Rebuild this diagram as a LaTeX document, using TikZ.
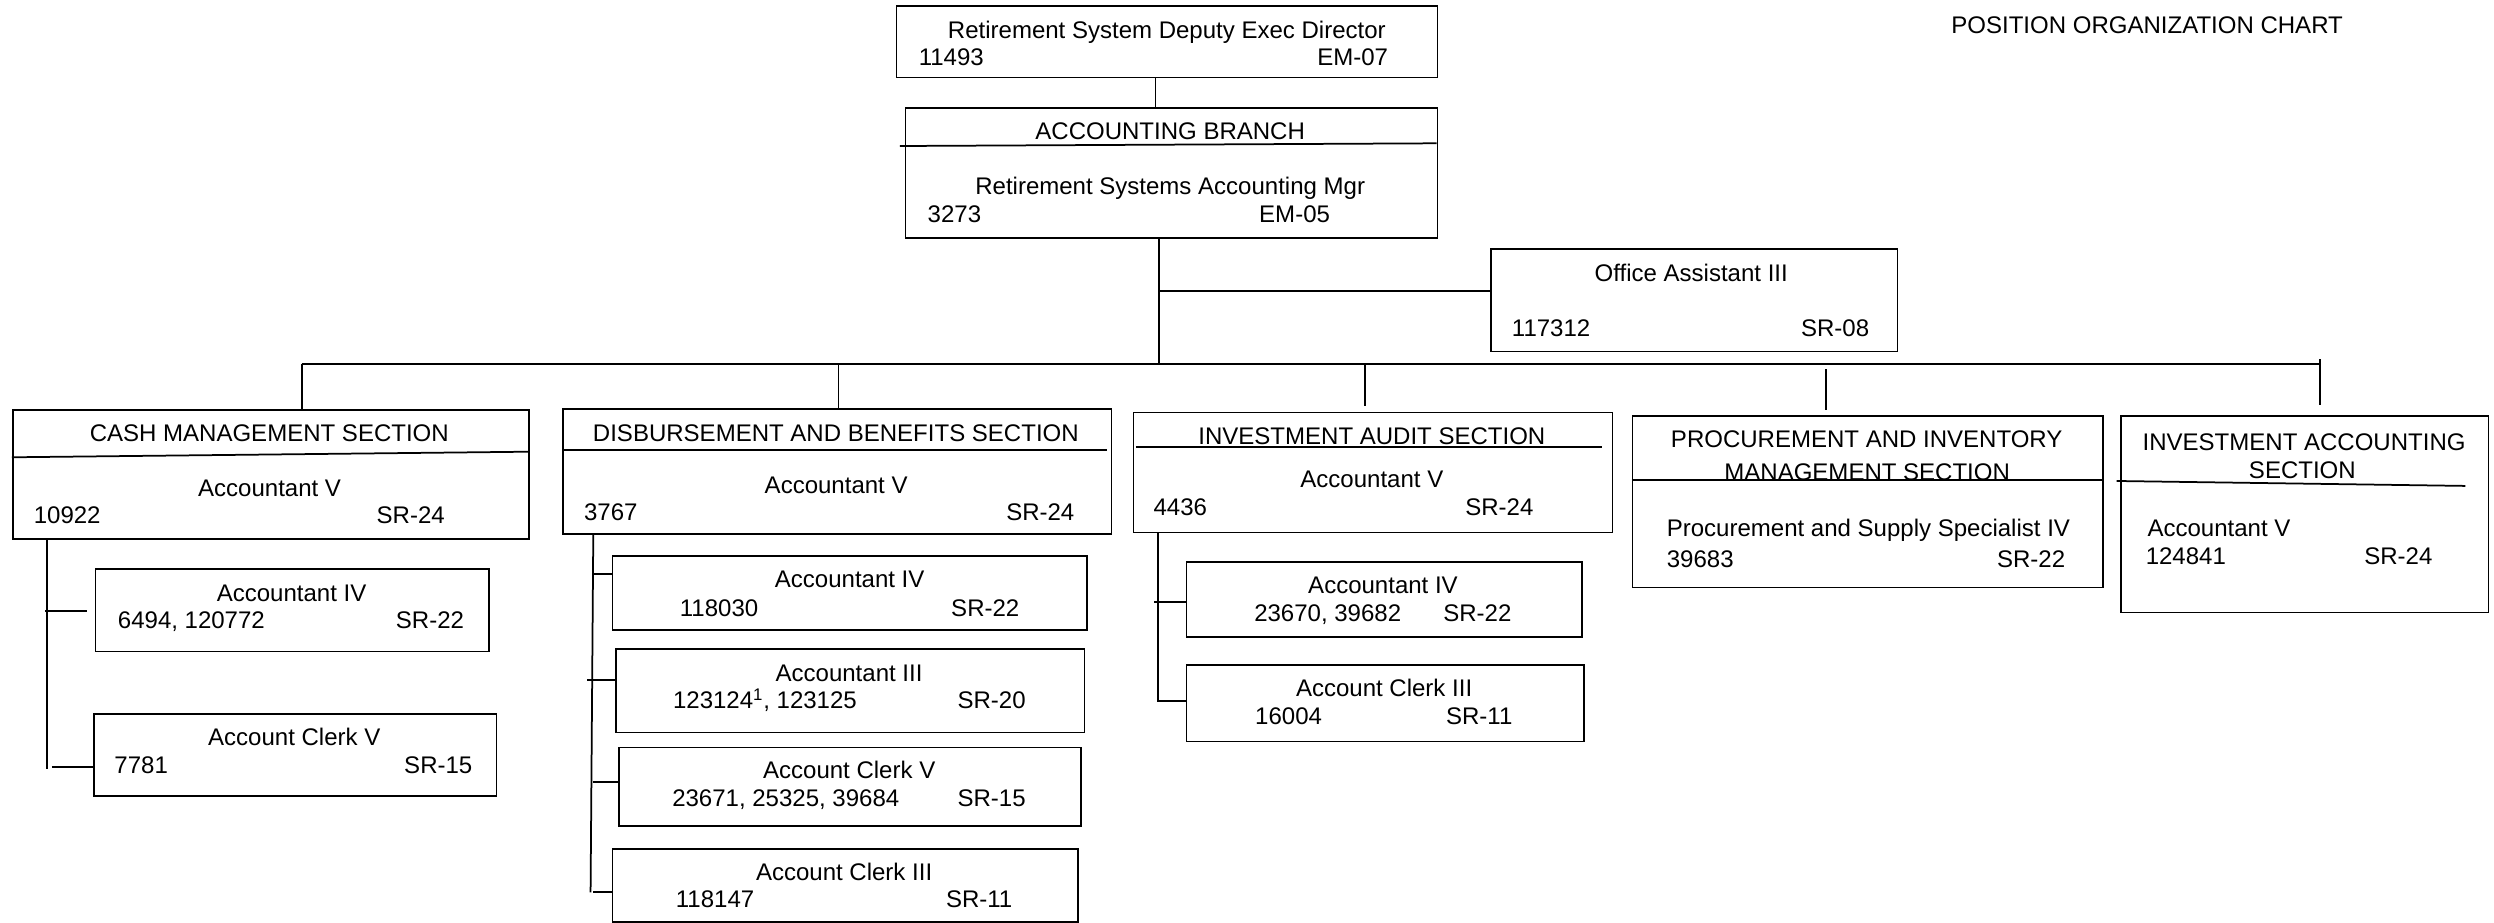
\documentclass[tikz,border=0pt]{standalone}
\usepackage{fontspec}
\setmainfont{Liberation Sans}
\newcommand{\chartfont}{\fontsize{15.1}{18}\selectfont}
\begin{document}
\begin{tikzpicture}[x=1pt,y=-1pt,line width=1.1pt,
  box/.style={draw,line width=1.1pt,inner sep=0pt,anchor=north west},
  tc/.style={inner sep=0pt,anchor=base,font=\chartfont},
  tl/.style={inner sep=0pt,anchor=base west,font=\chartfont},
  tr/.style={inner sep=0pt,anchor=base east,font=\chartfont},
  conn/.style={line width=1.1pt}]
\useasboundingbox[fill=white] (0,0) rectangle (1568,579.7);

% ---------- boxes ----------
\node[box,minimum width=340.1,minimum height=45.1] (top) at (563.1,3.1) {};
\node[box,minimum width=334.5,minimum height=81.7] (acc) at (568.7,67.5) {};
\node[box,minimum width=255.4,minimum height=64.4] (oa) at (937,156.1) {};
\node[box,minimum width=324.5,minimum height=81.3] (cash) at (7.4,257.2) {};
\node[box,minimum width=344.7,minimum height=78.6] (disb) at (353.5,256.7) {};
\node[box,minimum width=301.2,minimum height=75.5] (aud) at (712.1,258.8) {};
\node[box,minimum width=295.9,minimum height=107.9] (proc) at (1025.8,260.9) {};
\node[box,minimum width=231,minimum height=123.6] (inv) at (1333,261) {};
\node[box,minimum width=247.4,minimum height=51.8] (ca4) at (59.5,357.3) {};
\node[box,minimum width=253.2,minimum height=51.3] (cc5) at (58.4,448.5) {};
\node[box,minimum width=298.5,minimum height=46.6] (da4) at (384.5,348.9) {};
\node[box,minimum width=294.6,minimum height=52.4] (da3) at (386.6,407.6) {};
\node[box,minimum width=290.2,minimum height=49.3] (dc5) at (388.7,469.4) {};
\node[box,minimum width=292.7,minimum height=45.7] (dc3) at (384.5,533.3) {};
\node[box,minimum width=248.6,minimum height=47.2] (aa4) at (745.4,352.7) {};
\node[box,minimum width=250,minimum height=48.2] (ac3) at (745.4,417.5) {};

% ---------- texts ----------
\node[tl] (title) at (1226.3,21) {POSITION ORGANIZATION CHART};

\node[tc] (topt) at (733.6,24.1) {Retirement System Deputy Exec Director};
\node[tl] (topn) at (577.1,40.9) {11493};
\node[tr] (topg) at (873.2,40.9) {EM-07};

\node[tc] (acch) at (735.7,87.6) {ACCOUNTING BRANCH};
\node[tc] (acct) at (735.7,122.6) {Retirement Systems Accounting Mgr};
\node[tl] (accn) at (582.7,140) {3273};
\node[tr] (accg) at (836.7,140) {EM-05};

\node[tc] (oat) at (1063.3,177.1) {Office Assistant III};
\node[tl] (oan) at (950,211.7) {117312};
\node[tr] (oag) at (1175.7,211.7) {SR-08};

\node[tc] (cashh) at (169.3,277.7) {CASH MANAGEMENT SECTION};
\node[tc] (casht) at (169.5,312.3) {Accountant V};
\node[tl] (cashn) at (20.7,329) {10922};
\node[tr] (cashg) at (280.2,329) {SR-24};

\node[tc] (ca4t) at (183.3,378.3) {Accountant IV};
\node[tl] (ca4n) at (73.6,395) {6494, 120772};
\node[tr] (ca4g) at (292.3,395) {SR-22};

\node[tc] (cc5t) at (185,468.4) {Account Clerk V};
\node[tl] (cc5n) at (71.4,486.2) {7781};
\node[tr] (cc5g) at (297.5,486.2) {SR-15};

\node[tc] (disbh) at (525.5,277.5) {DISBURSEMENT AND BENEFITS SECTION};
\node[tc] (disbt) at (525.7,310) {Accountant V};
\node[tl] (disbn) at (366.7,327.3) {3767};
\node[tr] (disbg) at (676,327.3) {SR-24};

\node[tc] (da4t) at (534.2,369.5) {Accountant IV};
\node[tl] (da4n) at (426.9,387.3) {118030};
\node[tr] (da4g) at (641.4,387.3) {SR-22};

\node[tc] (da3t) at (533.8,428.6) {Accountant III};
\node[tl] (da3n) at (422.6,445.7) {123124\textsuperscript{1}, 123125};
\node[tr] (da3g) at (645.4,445.7) {SR-20};

\node[tc] (dc5t) at (533.9,489.3) {Account Clerk V};
\node[tl] (dc5n) at (422.1,507.1) {23671, 25325, 39684};
\node[tr] (dc5g) at (645.4,507.1) {SR-15};

\node[tc] (dc3t) at (530.7,553.3) {Account Clerk III};
\node[tl] (dc3n) at (424.4,570.7) {118147};
\node[tr] (dc3g) at (637,570.7) {SR-11};

\node[tc] (audh) at (862.5,279.3) {INVESTMENT AUDIT SECTION};
\node[tc] (audt) at (862.5,306.6) {Accountant V};
\node[tl] (audn) at (724.7,323.8) {4436};
\node[tr] (audg) at (964.6,323.8) {SR-24};

\node[tc] (aa4t) at (869.5,373) {Accountant IV};
\node[tl] (aa4n) at (788,390.8) {23670, 39682};
\node[tr] (aa4g) at (950.8,390.8) {SR-22};

\node[tc] (ac3t) at (870.2,438) {Account Clerk III};
\node[tl] (ac3n) at (788.6,455.2) {16004};
\node[tr] (ac3g) at (951.4,455.2) {SR-11};

\node[tc] (proch1) at (1173.6,281.2) {PROCUREMENT AND INVENTORY};
\node[tc] (proch2) at (1173.9,301.8) {MANAGEMENT SECTION};
\node[tl] (proct) at (1047.4,337) {Procurement and Supply Specialist IV};
\node[tl] (procn) at (1047.4,356.7) {39683};
\node[tr] (procg) at (1298.9,356.7) {SR-22};

\node[tc] (invh1) at (1448.6,283) {INVESTMENT ACCOUNTING};
\node[tc] (invh2) at (1447.5,300.7) {SECTION};
\node[tl] (invt) at (1349.6,337.4) {Accountant V};
\node[tl] (invn) at (1348.5,354.6) {124841};
\node[tr] (invg) at (1529.8,354.6) {SR-24};

% ---------- dividers inside boxes ----------
\draw (565.8,91.8) -- (903.2,90.1);
\draw (7.4,287.5) -- (331.9,284);
\draw (353.5,282.9) -- (695.8,282.9);
\draw (714.2,281.2) -- (1007,281.2);
\draw (1025.8,301.8) -- (1321.7,301.8);
\draw (1330.7,302.4) -- (1550,305.5);

% ---------- connectors ----------
\coordinate (jTop) at (726.4,0);
\draw[conn] (top.south -| jTop) -- (acc.north -| jTop);
\coordinate (jMain) at (728.5,229);
\draw[conn] (acc.south -| jMain) -- (jMain);
\coordinate (jOA) at (728.5,183);
\draw[conn] (jOA) -- (jOA -| oa.west);

\coordinate (busL) at (189.7,229);
\coordinate (busR) at (1458.6,229);
\draw[conn] (busL) -- (busR);
\draw[conn] (busL) -- (busL |- cash.north);
\coordinate (dDisb) at (527.2,229);
\draw[conn] (dDisb) -- (dDisb |- disb.north);
\coordinate (dAud) at (858.2,229);
\coordinate (eAud) at (858.2,255.3);
\draw[conn] (dAud) -- (eAud);
\coordinate (sProc) at (1148,232.2);
\coordinate (eProc) at (1148,257.8);
\draw[conn] (sProc) -- (eProc);
\coordinate (sInv) at (1458.6,226);
\coordinate (eInv) at (1458.6,254.6);
\draw[conn] (sInv) -- (eInv);

% cash children
\coordinate (cV) at (29.6,0);
\coordinate (cB) at (29.6,483.7);
\draw[conn] (cash.south -| cV) -- (cB);
\coordinate (cA4) at (28.5,384.1);
\draw[conn,shorten >=4.5pt] (cA4) -- (cA4 -| ca4.west);
\coordinate (cC5) at (32.6,482);
\draw[conn] (cC5) -- (cC5 -| cc5.west);

% disbursement children
\coordinate (dV) at (373,0);
\coordinate (dB) at (371.3,561);
\draw[conn] (disb.south -| dV) -- (dB);
\coordinate (dA4) at (373,361.1);
\draw[conn] (dA4) -- (dA4 -| da4.west);
\coordinate (dA3) at (369.3,427.5);
\draw[conn] (dA3) -- (dA3 -| da3.west);
\coordinate (dC5) at (373,491.8);
\draw[conn] (dC5) -- (dC5 -| dc5.west);
\coordinate (dC3) at (373,561);
\draw[conn] (dC3) -- (dC3 -| dc3.west);

% audit children
\coordinate (aV) at (728.2,0);
\coordinate (aB) at (728.2,441.1);
\draw[conn] (aud.south -| aV) -- (aB);
\coordinate (aA4) at (725.7,378.7);
\draw[conn] (aA4) -- (aA4 -| aa4.west);
\coordinate (aC3) at (728.2,440.7);
\draw[conn] (aC3) -- (aC3 -| ac3.west);
\end{tikzpicture}
\end{document}
